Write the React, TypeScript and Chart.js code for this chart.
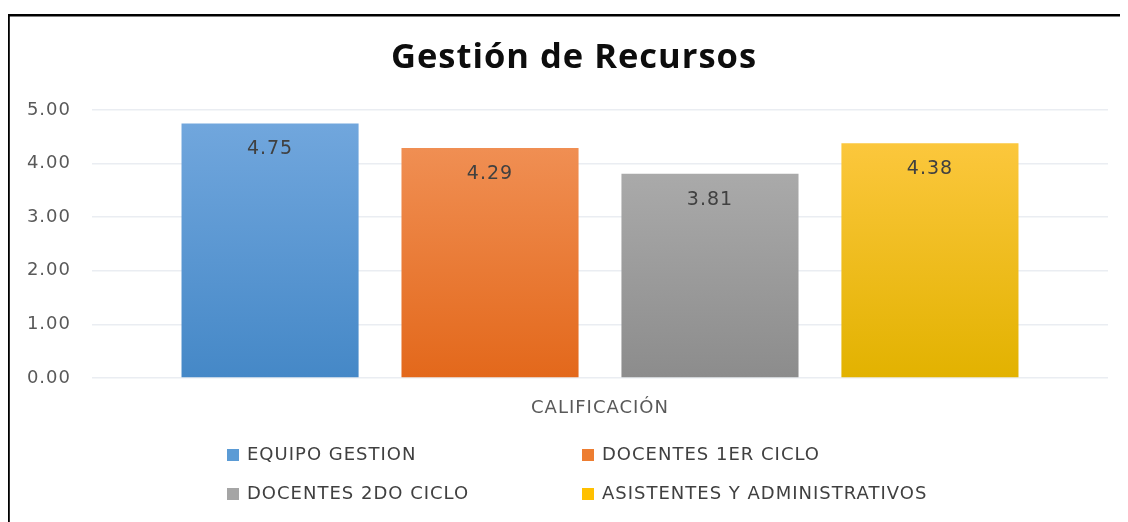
import React, { useEffect, useRef } from "react";
import { Chart, registerables } from "chart.js";

Chart.register(...registerables);

const TITLE = "Gestión de Recursos";
const CATEGORIES = ["CALIFICACIÓN"];
const SERIES_NAMES = [
  "EQUIPO GESTION",
  "DOCENTES 1ER CICLO",
  "DOCENTES 2DO CICLO",
  "ASISTENTES Y ADMINISTRATIVOS",
];
const SERIES_VALUES = [4.75, 4.29, 3.81, 4.38];
const Y_TICKS = [0, 1, 2, 3, 4, 5];
const TOP_COLORS = ["#73a8de", "#f2955c", "#b3b3b3", "#ffca45"];
const BOTTOM_COLORS = ["#4588c7", "#e3681b", "#8c8c8c", "#e2b200"];
const SWATCH_COLORS = ["#5b9bd5", "#ed7d31", "#a5a5a5", "#ffc000"];

const FONT = "'DejaVu Sans', sans-serif";

export default function App() {
  const ref = useRef<HTMLCanvasElement | null>(null);

  useEffect(() => {
    const canvas = ref.current;
    if (!canvas) return;

    const frame = {
      id: "frame",
      beforeDraw(chart: any) {
        const ctx = chart.ctx;
        (ctx as any).letterSpacing = "1px";
        ctx.save();
        ctx.fillStyle = "#ffffff";
        ctx.fillRect(0, 0, chart.width, chart.height);
        ctx.fillStyle = "#000000";
        ctx.fillRect(0, 6, chart.width, 2.5);
        ctx.fillRect(0, 6, 1.8, chart.height);
        ctx.fillStyle = "#0d0d0d";
        ctx.font = "bold 34.5px 'Open Sans', sans-serif";
        ctx.textAlign = "center";
        ctx.textBaseline = "middle";
        ctx.fillText(TITLE, chart.width / 2 + 6, 50);
        ctx.restore();
      },
    };

    const valueLabels = {
      id: "valueLabels",
      afterDatasetsDraw(chart: any) {
        const ctx = chart.ctx;
        ctx.save();
        ctx.font = `19px ${FONT}`;
        ctx.fillStyle = "#404040";
        ctx.textAlign = "center";
        ctx.textBaseline = "middle";
        chart.data.datasets.forEach((ds: any, i: number) => {
          const meta = chart.getDatasetMeta(i);
          meta.data.forEach((el: any, j: number) => {
            ctx.fillText(Number(ds.data[j]).toFixed(2), el.x, el.y + 26);
          });
        });
        ctx.restore();
      },
    };

    const gridLegend = {
      id: "gridLegend",
      afterDraw(chart: any) {
        const ctx = chart.ctx;
        ctx.save();
        ctx.font = `18px ${FONT}`;
        ctx.textBaseline = "middle";
        ctx.textAlign = "left";
        const colX = [219, 574];
        const rowY = [447, 486];
        chart.data.datasets.forEach((ds: any, i: number) => {
          const x = colX[i % 2];
          const y = rowY[Math.floor(i / 2)];
          ctx.fillStyle = SWATCH_COLORS[i];
          ctx.fillRect(x, y - 6, 12, 12);
          ctx.fillStyle = "#404040";
          ctx.fillText(ds.label, x + 20, y);
        });
        ctx.restore();
      },
    };

    const chart = new Chart(canvas, {
      type: "bar",
      data: {
        labels: CATEGORIES,
        datasets: SERIES_NAMES.map((name, i) => ({
          label: name,
          data: [SERIES_VALUES[i]],
          barPercentage: 0.805,
          categoryPercentage: 0.866,
          backgroundColor: (ctx: any) => {
            const area = ctx.chart.chartArea;
            if (!area) return TOP_COLORS[i];
            const g = ctx.chart.ctx.createLinearGradient(0, area.top, 0, area.bottom);
            g.addColorStop(0, TOP_COLORS[i]);
            g.addColorStop(1, BOTTOM_COLORS[i]);
            return g;
          },
          borderWidth: 0,
        })),
      },
      options: {
        animation: false,
        responsive: false,
        maintainAspectRatio: false,
        layout: { padding: { left: 0, right: 20, top: 102, bottom: 100 } },
        plugins: {
          legend: { display: false },
          tooltip: { enabled: false },
          title: { display: false },
        },
        scales: {
          x: {
            grid: { display: false, drawTicks: false },
            border: { display: false },
            ticks: { color: "#595959", font: { family: FONT, size: 18 }, padding: 20 },
            afterFit: (scale: any) => {
              scale.height = 44;
            },
          },
          y: {
            min: 0,
            max: 5,
            afterBuildTicks: (scale: any) => {
              scale.ticks = Y_TICKS.map((v) => ({ value: v }));
            },
            ticks: {
              color: "#595959",
              font: { family: FONT, size: 18 },
              padding: 21,
              callback: (v: any) => Number(v).toFixed(2),
            },
            grid: { color: "#eaedf2", lineWidth: 1.5, drawTicks: false },
            border: { display: false },
            afterFit: (scale: any) => {
              scale.width = 84;
            },
          },
        },
      },
      plugins: [frame, valueLabels, gridLegend],
    } as any);

    return () => chart.destroy();
  }, []);

  return (
    <div style={{ width: 1120, height: 514 }}>
      <canvas ref={ref} width={1120} height={514} style={{ display: "block", width: 1120, height: 514 }} />
    </div>
  );
}
